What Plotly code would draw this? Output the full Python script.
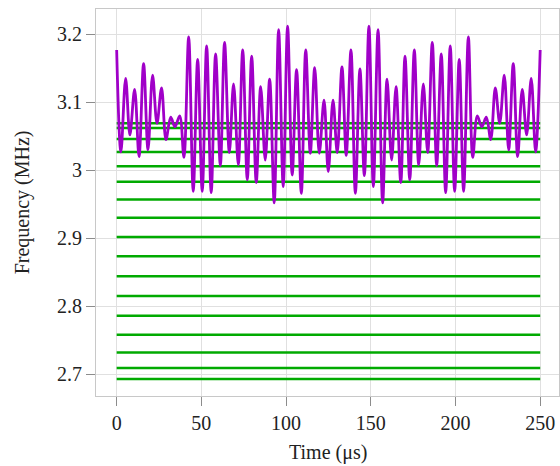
import plotly.graph_objects as go

# Purple signal: extrema (time in us, frequency in MHz)
time_us = [0, 2.5, 5.3, 7.8, 10.6, 13.2, 15.9, 18.5, 21.2, 23.8, 26.5, 29.1, 31.9, 34.4, 37.2, 39.7,
           42.5, 45.2, 47.8, 50.5, 53.1, 55.8, 58.4, 61.2, 63.7, 66.5, 69.0, 71.8, 74.4, 77.1, 79.7,
           82.4, 85.0, 87.7, 90.3, 93.0, 95.6, 98.3, 100.9, 103.6, 106.2, 109.0, 111.6, 114.3, 116.9,
           119.6, 122.4, 124.9, 127.7, 130.2, 133.0, 135.5, 138.3, 140.9, 143.6, 146.2, 148.9, 151.5,
           154.3, 157.0, 159.6, 162.3, 164.9, 167.7, 170.2, 173.0, 175.7, 178.3, 181.0, 183.6, 186.3,
           188.9, 191.6, 194.2, 196.9, 199.5, 202.2, 204.8, 207.6, 210.2, 212.9, 215.5, 218.2, 220.8,
           223.5, 226.1, 228.8, 231.4, 234.1, 236.7, 239.4, 242.0, 244.7, 247.3, 250]
freq_mhz = [3.177, 3.027, 3.135, 3.052, 3.119, 3.020, 3.157, 3.030, 3.140, 3.069, 3.121, 3.045, 3.078,
            3.064, 3.080, 3.019, 3.196, 2.969, 3.163, 2.969, 3.183, 2.967, 3.171, 3.007, 3.188, 3.026,
            3.127, 3.008, 3.177, 2.986, 3.168, 2.982, 3.123, 3.015, 3.134, 2.952, 3.207, 2.976, 3.212,
            2.993, 3.148, 2.966, 3.177, 3.025, 3.151, 3.025, 3.103, 2.998, 3.103, 3.026, 3.152, 3.022,
            3.177, 2.966, 3.149, 2.992, 3.212, 2.976, 3.207, 2.952, 3.134, 3.015, 3.123, 2.982, 3.168,
            2.986, 3.177, 3.008, 3.127, 3.026, 3.188, 3.007, 3.171, 2.967, 3.183, 2.969, 3.163, 2.969,
            3.196, 3.019, 3.080, 3.064, 3.078, 3.045, 3.121, 3.069, 3.140, 3.030, 3.157, 3.020, 3.119,
            3.052, 3.135, 3.027, 3.177]

# Green horizontal levels (MHz)
levels_mhz = [3.069, 3.062, 3.046, 3.027, 3.006, 2.983, 2.957, 2.930, 2.902, 2.8735, 2.844, 2.815,
              2.786, 2.758, 2.732, 2.709, 2.693]
level_t_start = 0
level_t_end = 250

x_ticks = [0, 50, 100, 150, 200, 250]
x_tick_text = ["0", "50", "100", "150", "200", "250"]
y_ticks = [2.7, 2.8, 2.9, 3.0, 3.1, 3.2]
y_tick_text = ["2.7", "2.8", "2.9", "3", "3.1", "3.2"]
x_title = "Time (μs)"
y_title = "Frequency (MHz)"

gx, gy = [], []
for lv in levels_mhz:
    gx += [level_t_start, level_t_end, None]
    gy += [lv, lv, None]

fig = go.Figure()
fig.add_trace(go.Scatter(x=gx, y=gy, mode="lines",
                         line=dict(color="#00aa00", width=2.5), hoverinfo="skip",
                         showlegend=False))
fig.add_trace(go.Scatter(x=time_us, y=freq_mhz, mode="lines",
                         line=dict(color="#a000c8", width=2.8, shape="spline", smoothing=1.0),
                         showlegend=False))

font_family = "Liberation Serif, DejaVu Serif, serif"
axis_common = dict(showgrid=True, gridcolor="#e0e0e0", gridwidth=1.3,
                   showline=True, linecolor="#c8c8c8", linewidth=1.2, mirror=True,
                   ticks="outside", ticklen=9, tickcolor="#8c8c8c", tickwidth=1.2,
                   zeroline=False, automargin=False,
                   tickfont=dict(family=font_family, size=20, color="#222"))

fig.update_layout(
    width=560, height=466,
    margin=dict(l=96, r=1, t=9, b=70),
    paper_bgcolor="white", plot_bgcolor="white",
    font=dict(family=font_family, size=20, color="#222"),
    xaxis=dict(range=[-12.2, 261.1], tickvals=x_ticks, ticktext=x_tick_text, **axis_common),
    yaxis=dict(range=[2.668, 3.2372], tickvals=y_ticks, ticktext=y_tick_text, **axis_common),
    annotations=[
        dict(text=x_title, xref="paper", yref="paper", x=0.5 - 0.0, y=-0.145,
             xanchor="center", yanchor="middle", showarrow=False,
             font=dict(family=font_family, size=20, color="#222")),
        dict(text=y_title, xref="paper", yref="paper", x=-0.158, y=0.5,
             xanchor="center", yanchor="middle", showarrow=False, textangle=-90,
             font=dict(family=font_family, size=20, color="#222")),
    ],
)

fig.write_html("out.html", config={"displayModeBar": False},
               post_script="document.body.style.margin='0';document.body.style.overflow='hidden';")
